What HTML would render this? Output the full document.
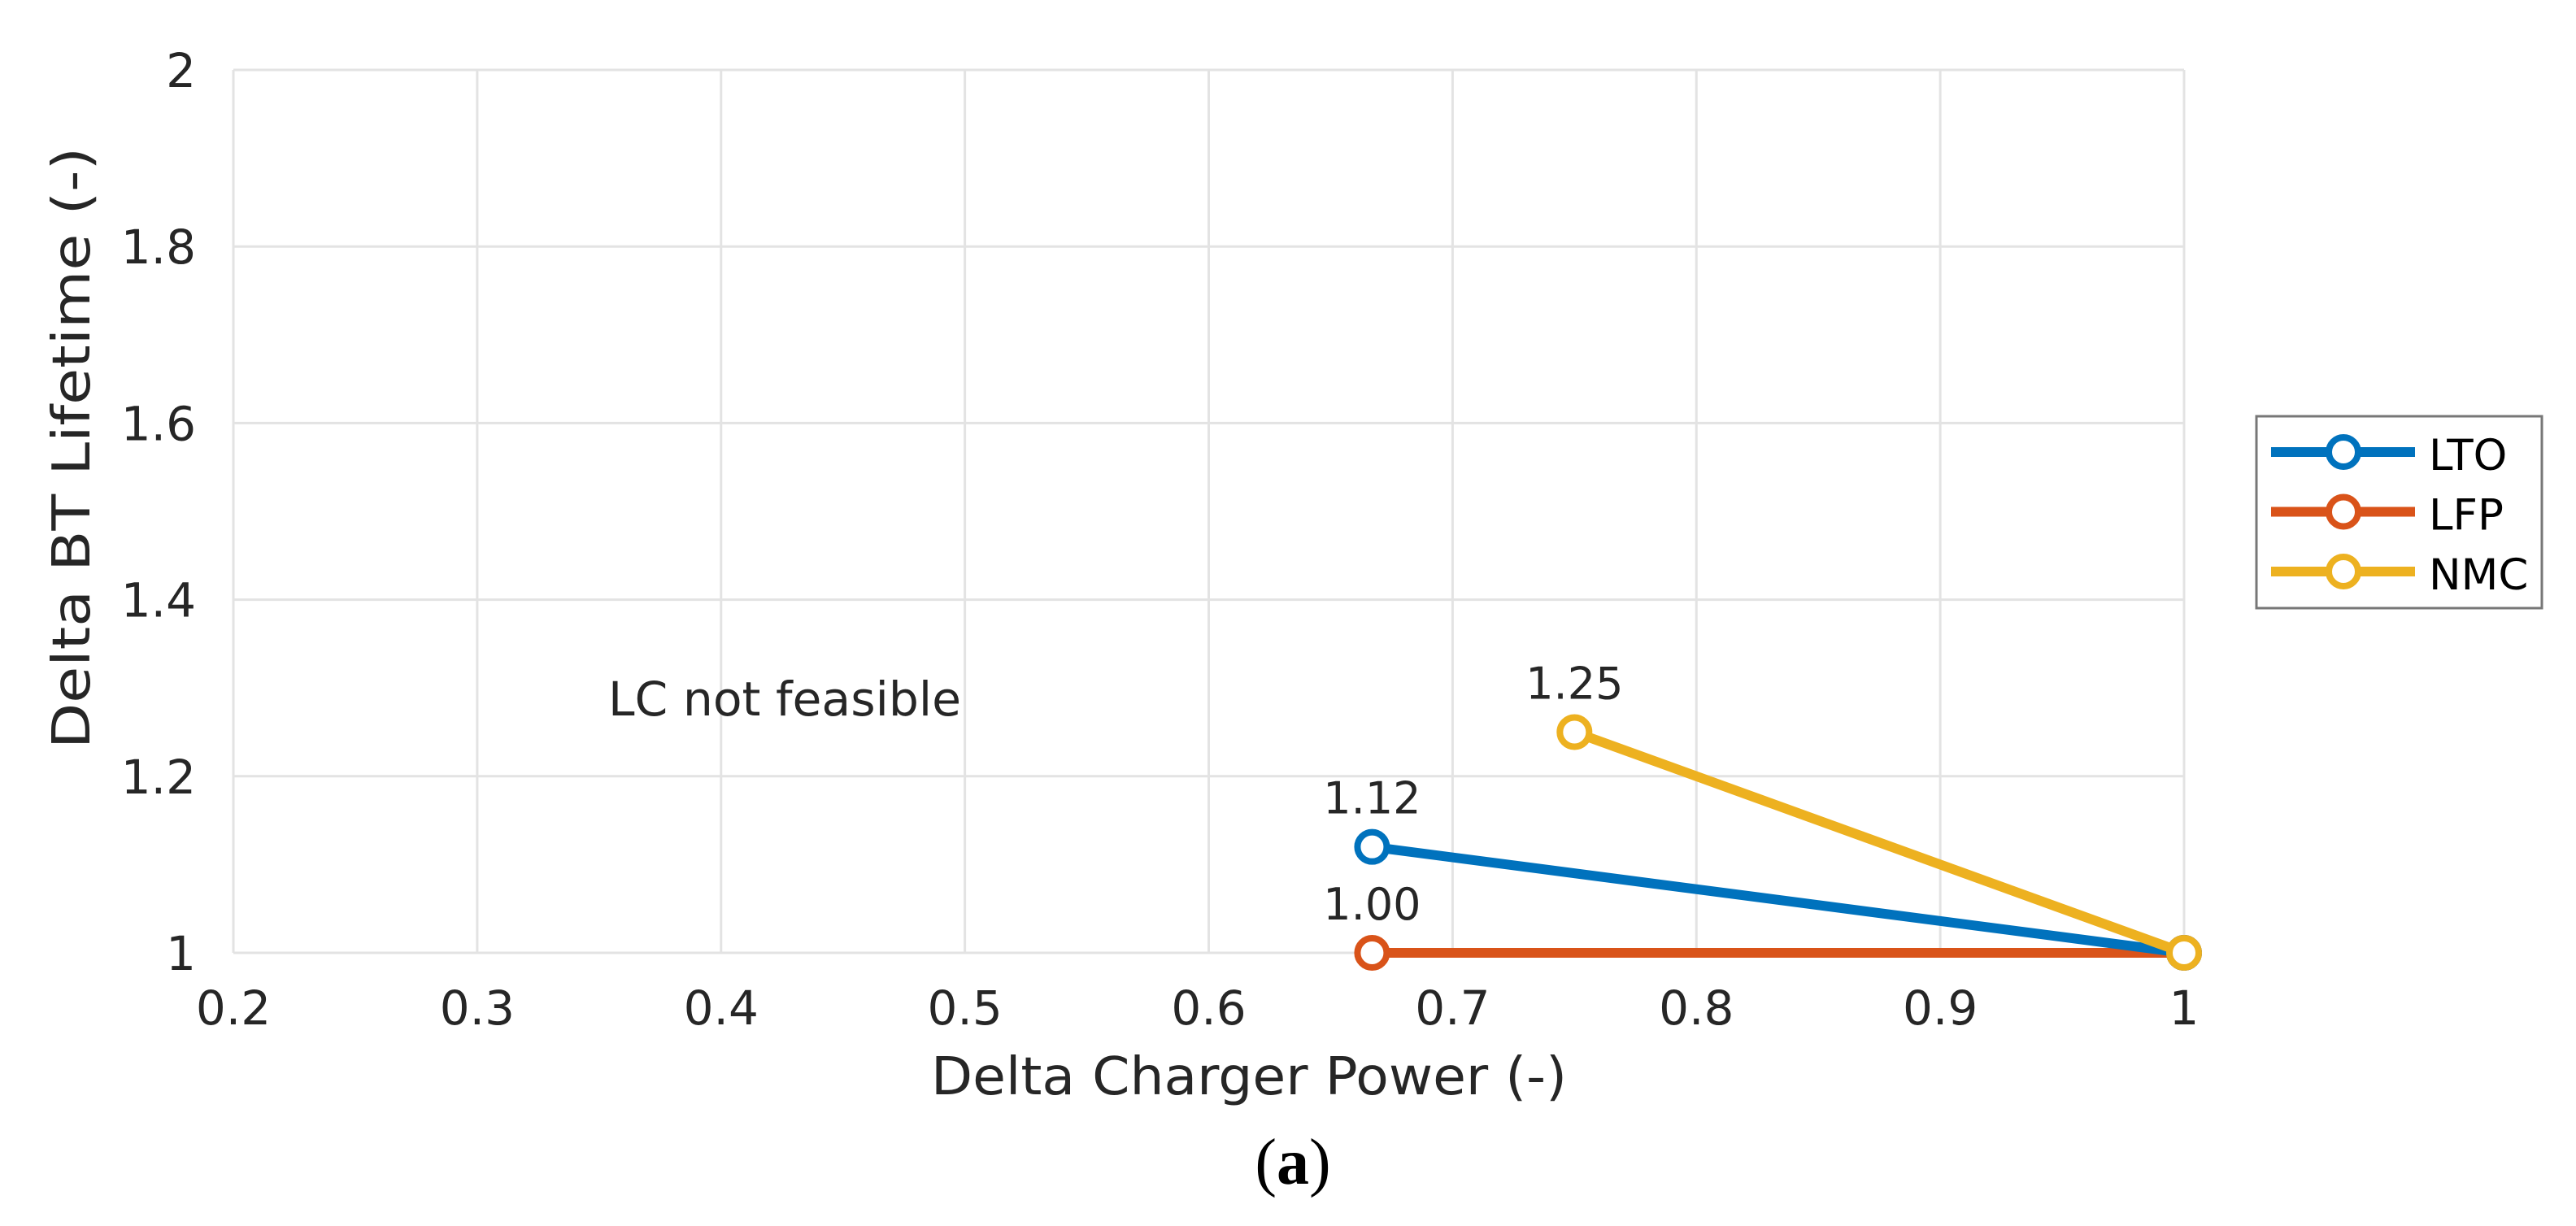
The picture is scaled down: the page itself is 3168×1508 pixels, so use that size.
<!DOCTYPE html>
<html><head><meta charset="utf-8"><style>
html,body{margin:0;padding:0;background:#fff;}
svg{display:block;}
text{font-family:"DejaVu Sans","Liberation Sans",sans-serif;fill:#262626;}
</style></head><body>
<svg id="chart" width="3168" height="1508" viewBox="0 0 3168 1508" xmlns="http://www.w3.org/2000/svg">
<g id="grid"></g>
<g id="ticks"></g>
<g id="series"></g>
<text x="748" y="880" font-size="58" textLength="434" lengthAdjust="spacingAndGlyphs">LC not feasible</text>
<text x="1145" y="1346" font-size="64" textLength="782" lengthAdjust="spacingAndGlyphs">Delta Charger Power (-)</text>
<text transform="translate(110,551) rotate(-90)" x="-370" y="0" font-size="64" textLength="740" lengthAdjust="spacingAndGlyphs">Delta BT Lifetime (-)</text>
<text x="1590" y="1456" font-size="80" text-anchor="middle" style="font-family:'Liberation Serif',serif;fill:#000">(<tspan font-weight="bold">a</tspan>)</text>
<g id="legend">
<rect x="2775" y="512" width="351" height="236" fill="#fff" stroke="#777" stroke-width="3"/>
</g>
</svg>
<script>
const xTicks=[0.2,0.3,0.4,0.5,0.6,0.7,0.8,0.9,1];
const xTickLabels=["0.2","0.3","0.4","0.5","0.6","0.7","0.8","0.9","1"];
const yTicks=[1,1.2,1.4,1.6,1.8,2];
const yTickLabels=["1","1.2","1.4","1.6","1.8","2"];
const seriesNames=["LTO","LFP","NMC"];
const ltoX=[0.667,1];const ltoY=[1.12,1];
const lfpX=[0.667,1];const lfpY=[1.00,1];
const nmcX=[0.75,1];const nmcY=[1.25,1];
const pointLabels=["1.12","1.00","1.25"];

const NS="http://www.w3.org/2000/svg";
const L=287,R=2686,T=86,B=1172;
function sx(v){return L+(v-0.2)/(1-0.2)*(R-L);}
function sy(v){return B-(v-1)/(2-1)*(B-T);}
function mk(tag,attrs,parent){const e=document.createElementNS(NS,tag);for(const k in attrs)e.setAttribute(k,attrs[k]);parent.appendChild(e);return e;}
const grid=document.getElementById('grid'),ticks=document.getElementById('ticks'),series=document.getElementById('series'),legend=document.getElementById('legend');
xTicks.forEach((v,i)=>{
  const l=mk('line',{x1:sx(v),x2:sx(v),y1:T,y2:B,stroke:'#e3e3e3','stroke-width':3},grid);
  
  
  const t=mk('text',{x:sx(v),y:1260,'font-size':58,'text-anchor':'middle'},ticks);
  t.textContent=xTickLabels[i];
  
  
});
yTicks.forEach((v,i)=>{
  const l=mk('line',{x1:L,x2:R,y1:sy(v),y2:sy(v),stroke:'#e3e3e3','stroke-width':3},grid);
  
  
  const t=mk('text',{x:241,y:sy(v)+21,'font-size':58,'text-anchor':'end'},ticks);
  t.textContent=yTickLabels[i];
  
  
});
const colors=["#0072BD","#D95319","#EDB120"];
const data=[[ltoX,ltoY],[lfpX,lfpY],[nmcX,nmcY]];
const drawOrder=[1,0,2];
drawOrder.forEach(si=>{
  const [xs,ys]=data[si];
  const g=mk('g',{},series);
  
  
  const pts=xs.map((x,i)=>sx(x)+','+sy(ys[i])).join(' ');
  const pl=mk('polyline',{points:pts,fill:'none',stroke:colors[si],'stroke-width':12},g);
  
  
  xs.forEach((x,i)=>{
    const c=mk('circle',{cx:sx(x),cy:sy(ys[i]),r:18,fill:'#fff',stroke:colors[si],'stroke-width':8},g);
    
    
  });
  const t=mk('text',{x:sx(xs[0]),y:sy(ys[0])-41,'font-size':54,'text-anchor':'middle'},g);
  t.textContent=pointLabels[si];
  
  
});
seriesNames.forEach((n,i)=>{
  const y=556+i*73.5;
  const g=mk('g',{},legend);
  
  
  mk('line',{x1:2793,x2:2970,y1:y,y2:y,stroke:colors[i],'stroke-width':12},g);
  mk('circle',{cx:2882,cy:y,r:18,fill:'#fff',stroke:colors[i],'stroke-width':8},g);
  const t=mk('text',{x:2987,y:y+22,'font-size':53,style:'fill:#000'},g);
  t.textContent=n;
});
</script>
</body></html>
